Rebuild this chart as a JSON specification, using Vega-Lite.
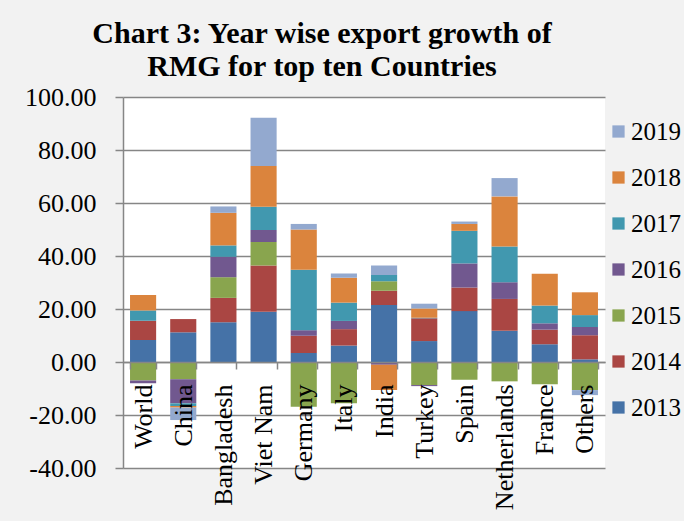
{
  "$schema": "https://vega.github.io/schema/vega-lite/v6.json",
  "width": 482,
  "height": 371,
  "autosize": {"type": "none"},
  "padding": {"left": 123, "top": 97, "right": 79, "bottom": 53},
  "background": "#f2f2f2",
  "title": {
    "text": ["Chart 3: Year wise export growth of", "RMG for top ten Countries"],
    "font": "Liberation Serif",
    "fontSize": 30,
    "fontWeight": "bold",
    "color": "#000000",
    "anchor": "middle",
    "frame": "group",
    "dx": -42,
    "offset": 2,
    "lineHeight": 33
  },
  "data": {
    "values": [
      {"country": "World", "year": "2013", "value": 8.3},
      {"country": "World", "year": "2014", "value": 7.3},
      {"country": "World", "year": "2015", "value": -7.0},
      {"country": "World", "year": "2016", "value": -1.0},
      {"country": "World", "year": "2017", "value": 3.8},
      {"country": "World", "year": "2018", "value": 5.9},
      {"country": "World", "year": "2019", "value": 0.0},
      {"country": "China", "year": "2013", "value": 11.2},
      {"country": "China", "year": "2014", "value": 5.0},
      {"country": "China", "year": "2015", "value": -6.5},
      {"country": "China", "year": "2016", "value": -9.1},
      {"country": "China", "year": "2017", "value": -1.0},
      {"country": "China", "year": "2018", "value": -0.6},
      {"country": "China", "year": "2019", "value": -4.7},
      {"country": "Bangladesh", "year": "2013", "value": 15.0},
      {"country": "Bangladesh", "year": "2014", "value": 9.2},
      {"country": "Bangladesh", "year": "2015", "value": 7.8},
      {"country": "Bangladesh", "year": "2016", "value": 7.7},
      {"country": "Bangladesh", "year": "2017", "value": 4.3},
      {"country": "Bangladesh", "year": "2018", "value": 12.3},
      {"country": "Bangladesh", "year": "2019", "value": 2.4},
      {"country": "Viet Nam", "year": "2013", "value": 19.0},
      {"country": "Viet Nam", "year": "2014", "value": 17.4},
      {"country": "Viet Nam", "year": "2015", "value": 8.9},
      {"country": "Viet Nam", "year": "2016", "value": 4.5},
      {"country": "Viet Nam", "year": "2017", "value": 8.8},
      {"country": "Viet Nam", "year": "2018", "value": 15.4},
      {"country": "Viet Nam", "year": "2019", "value": 18.2},
      {"country": "Germany", "year": "2013", "value": 3.4},
      {"country": "Germany", "year": "2014", "value": 6.5},
      {"country": "Germany", "year": "2015", "value": -16.9},
      {"country": "Germany", "year": "2016", "value": 2.1},
      {"country": "Germany", "year": "2017", "value": 22.8},
      {"country": "Germany", "year": "2018", "value": 15.2},
      {"country": "Germany", "year": "2019", "value": 2.1},
      {"country": "Italy", "year": "2013", "value": 6.2},
      {"country": "Italy", "year": "2014", "value": 6.2},
      {"country": "Italy", "year": "2015", "value": -15.6},
      {"country": "Italy", "year": "2016", "value": 3.1},
      {"country": "Italy", "year": "2017", "value": 6.9},
      {"country": "Italy", "year": "2018", "value": 9.4},
      {"country": "Italy", "year": "2019", "value": 1.6},
      {"country": "India", "year": "2013", "value": 21.5},
      {"country": "India", "year": "2014", "value": 5.4},
      {"country": "India", "year": "2015", "value": 3.6},
      {"country": "India", "year": "2016", "value": -1.0},
      {"country": "India", "year": "2017", "value": 2.3},
      {"country": "India", "year": "2018", "value": -9.6},
      {"country": "India", "year": "2019", "value": 3.6},
      {"country": "Turkey", "year": "2013", "value": 7.9},
      {"country": "Turkey", "year": "2014", "value": 8.6},
      {"country": "Turkey", "year": "2015", "value": -8.7},
      {"country": "Turkey", "year": "2016", "value": -0.4},
      {"country": "Turkey", "year": "2017", "value": 0.2},
      {"country": "Turkey", "year": "2018", "value": 3.5},
      {"country": "Turkey", "year": "2019", "value": 1.8},
      {"country": "Spain", "year": "2013", "value": 19.2},
      {"country": "Spain", "year": "2014", "value": 8.9},
      {"country": "Spain", "year": "2015", "value": -6.7},
      {"country": "Spain", "year": "2016", "value": 9.1},
      {"country": "Spain", "year": "2017", "value": 12.3},
      {"country": "Spain", "year": "2018", "value": 2.6},
      {"country": "Spain", "year": "2019", "value": 0.9},
      {"country": "Netherlands", "year": "2013", "value": 11.8},
      {"country": "Netherlands", "year": "2014", "value": 12.0},
      {"country": "Netherlands", "year": "2015", "value": -7.3},
      {"country": "Netherlands", "year": "2016", "value": 6.3},
      {"country": "Netherlands", "year": "2017", "value": 13.5},
      {"country": "Netherlands", "year": "2018", "value": 18.9},
      {"country": "Netherlands", "year": "2019", "value": 6.9},
      {"country": "France", "year": "2013", "value": 6.7},
      {"country": "France", "year": "2014", "value": 5.5},
      {"country": "France", "year": "2015", "value": -8.4},
      {"country": "France", "year": "2016", "value": 2.4},
      {"country": "France", "year": "2017", "value": 6.7},
      {"country": "France", "year": "2018", "value": 12.0},
      {"country": "France", "year": "2019", "value": 0.0},
      {"country": "Others", "year": "2013", "value": 1.0},
      {"country": "Others", "year": "2014", "value": 9.1},
      {"country": "Others", "year": "2015", "value": -10.6},
      {"country": "Others", "year": "2016", "value": 3.1},
      {"country": "Others", "year": "2017", "value": 4.5},
      {"country": "Others", "year": "2018", "value": 8.6},
      {"country": "Others", "year": "2019", "value": -1.9}
    ]
  },
  "mark": {"type": "bar"},
  "encoding": {
    "x": {
      "field": "country",
      "type": "nominal",
      "sort": null,
      "scale": {"paddingInner": 0.35, "paddingOuter": 0.175},
      "axis": {
        "title": null,
        "offset": -106,
        "labelAngle": -90,
        "tickBand": "extent",
        "tickSize": 7,
        "labelPadding": 15,
        "labelLimit": 300,
        "grid": false,
        "zindex": 2
      }
    },
    "y": {
      "field": "value",
      "type": "quantitative",
      "stack": "zero",
      "scale": {"domain": [-40, 100], "nice": false},
      "axis": {
        "title": null,
        "values": [-40, -20, 0, 20, 40, 60, 80, 100],
        "format": ".2f",
        "labelExpr": "replace(datum.label, '−', '-')",
        "tickSize": 8,
        "labelPadding": 19,
        "grid": true
      }
    },
    "color": {
      "field": "year",
      "type": "nominal",
      "scale": {
        "domain": ["2019", "2018", "2017", "2016", "2015", "2014", "2013"],
        "range": ["#93A9CF", "#DB843D", "#4198AF", "#71588F", "#89A54E", "#AA4643", "#4572A7"]
      },
      "legend": {
        "title": null,
        "orient": "none",
        "legendX": 483,
        "legendY": 22,
        "symbolType": "square",
        "symbolSize": 150,
        "symbolStrokeWidth": 0,
        "labelFont": "Liberation Serif",
        "labelFontSize": 25,
        "labelColor": "#000000",
        "labelOffset": 0,
        "labelLimit": 200,
        "rowPadding": 20,
        "padding": 0
      }
    },
    "order": {"field": "year", "sort": "ascending"}
  },
  "config": {
    "view": {"fill": "#ffffff", "stroke": null},
    "axis": {
      "labelFont": "Liberation Serif",
      "labelFontSize": 26,
      "labelColor": "#000000",
      "domainColor": "#868686",
      "domainWidth": 1.5,
      "tickColor": "#868686",
      "tickWidth": 1.5,
      "gridColor": "#868686",
      "gridWidth": 1.5
    }
  }
}
